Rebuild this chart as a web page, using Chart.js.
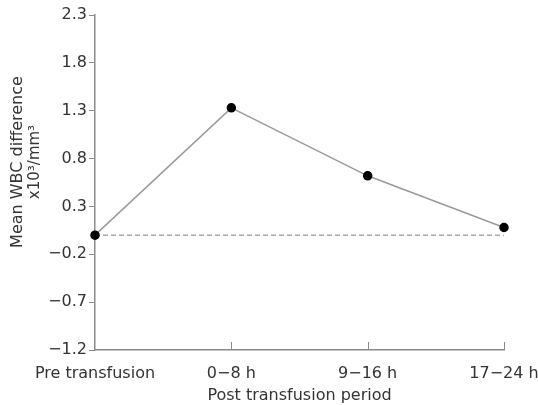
<!DOCTYPE html>
<html>
<head>
<meta charset="utf-8">
<script src="https://cdn.jsdelivr.net/npm/chart.js@4/dist/chart.umd.min.js"></script>
<style>
  html, body { margin: 0; padding: 0; background: #fff; }
  #wrap { width: 538px; height: 405px; }
</style>
</head>
<body>
<div id="wrap"><canvas id="wbcChart" width="538" height="405"></canvas></div>
<script>
// === DATA ===
const periods = ['Pre transfusion', '0\u22128 h', '9\u221216 h', '17\u221224 h'];
const meanWbcDiff = [0, 1.33, 0.62, 0.08];
const baseline = [0, 0, 0, 0];
const yTicks = [-1.2, -0.7, -0.2, 0.3, 0.8, 1.3, 1.8, 2.3];
const yTitle = ['Mean WBC difference', 'x10\u00b3/mm\u00b3'];

const textColor = '#333';
const axisColor = '#8a8a8a';
const family = "'DejaVu Sans', sans-serif";
const tickFont = { family: family, size: 16 };

// short inward tick marks on the category axis + y axis title
const extras = {
    id: 'extras',
    afterDraw(chart){
        const x = chart.scales.x;
        const ctx = chart.ctx;
        ctx.save();
        ctx.strokeStyle = axisColor;
        ctx.lineWidth = 1;
        for(let i=1;i<periods.length;i++){
            const px = Math.round(x.getPixelForValue(i)) + 0.5;
            ctx.beginPath();
            ctx.moveTo(px, x.top);
            ctx.lineTo(px, x.top - 8);
            ctx.stroke();
        }
        // y title, rotated, sits a little above the axis centre
        ctx.fillStyle = textColor;
        ctx.textAlign = 'center';
        ctx.textBaseline = 'middle';
        ctx.translate(18, 162);
        ctx.rotate(-Math.PI/2);
        ctx.font = '16px ' + family;
        ctx.fillText(yTitle[0], 0, 0);
        ctx.font = '15px ' + family;
        ctx.fillText(yTitle[1], 0, 17);
        ctx.restore();
    }
};

new Chart(document.getElementById('wbcChart'), {
    type: 'line',
    data: {
        labels: periods,
        datasets: [
            {
                label: 'Mean WBC difference',
                data: meanWbcDiff,
                borderColor: '#9a9a9a',
                borderWidth: 1.5,
                pointBackgroundColor: '#000',
                pointBorderColor: '#000',
                pointRadius: 4,
                tension: 0
            },
            {
                label: 'baseline',
                data: baseline,
                borderColor: '#aaa',
                borderWidth: 1.5,
                borderDash: [5, 3],
                pointRadius: 0,
                tension: 0
            }
        ]
    },
    options: {
        responsive: false,
        animation: false,
        layout: { padding: { top: 15, right: 34, left: 0, bottom: 0 } },
        plugins: { legend: { display: false }, tooltip: { enabled: false } },
        scales: {
            x: {
                type: 'category',
                offset: false,
                grid: { display: false },
                border: { display: true, color: axisColor, width: 1.5 },
                ticks: { color: textColor, font: tickFont, padding: 6, maxRotation: 0, autoSkip: false },
                title: { display: true, text: 'Post transfusion period', color: textColor, font: { family: family, size: 16 }, padding: { top: 0, bottom: 0 } },
                afterFit(scale){
                    scale.height = 55;
                    scale.paddingLeft = 0;
                    scale.paddingRight = 0;
                }
            },
            y: {
                min: -1.2,
                max: 2.3,
                grid: { drawOnChartArea: false, drawTicks: true, tickLength: 6, color: axisColor },
                border: { display: true, color: axisColor, width: 1.5 },
                afterBuildTicks(scale){ scale.ticks = yTicks.map(v => ({ value: v })); },
                ticks: {
                    color: textColor,
                    font: tickFont,
                    padding: 2,
                    callback: v => v.toFixed(1).replace('-', '\u2212')
                },
                afterFit(scale){ scale.width = 95; }
            }
        }
    },
    plugins: [extras]
});
</script>
</body>
</html>
